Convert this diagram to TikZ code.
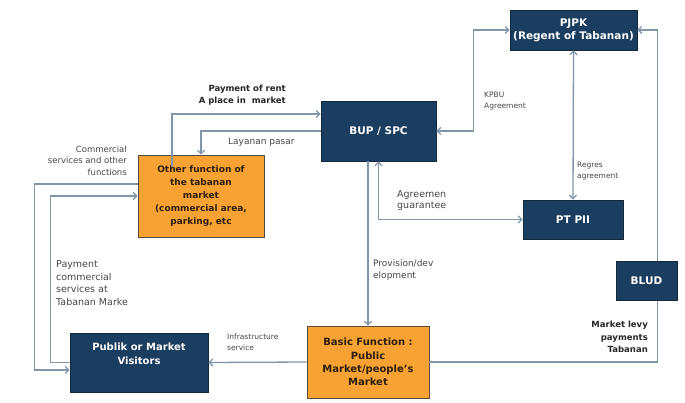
\documentclass[tikz,border=0pt]{standalone}
\usepackage{fontspec}
\setmainfont{DejaVu Sans}
\usetikzlibrary{arrows.meta}
\definecolor{navy}{RGB}{26,61,96}
\definecolor{navyedge}{RGB}{20,40,60}
\definecolor{orng}{RGB}{248,162,52}
\definecolor{linec}{RGB}{128,150,170}
\definecolor{txt}{RGB}{70,70,70}
\definecolor{boxtxt}{RGB}{45,30,15}
\begin{document}
\begin{tikzpicture}[x=1pt,y=-1pt,
  navybox/.style={draw=navyedge, fill=navy, text=white, font=\bfseries\fontsize{10.5}{13}\selectfont, align=center, inner sep=0pt, line width=0.8pt},
  orangebox/.style={draw=boxtxt!80, fill=orng, text=boxtxt, font=\bfseries\fontsize{9}{12.8}\selectfont, align=center, inner sep=0pt, line width=0.8pt},
  conn/.style={draw=linec, line width=1.3pt, -{Straight Barb[length=3.5pt,width=7pt]}},
  conn2/.style={draw=linec, line width=1.3pt, {Straight Barb[length=3.5pt,width=7pt]}-{Straight Barb[length=3.5pt,width=7pt]}},
  lbl/.style={text=txt, inner sep=0pt, font=\fontsize{9}{12}\selectfont},
  smalllbl/.style={text=txt, inner sep=0pt, font=\fontsize{7.5}{11}\selectfont, align=left, anchor=west},
  boldlbl/.style={text=black!85, inner sep=0pt, font=\bfseries\fontsize{8.5}{12.5}\selectfont, align=right, anchor=east},
]
\useasboundingbox (0,0) rectangle (685,403);

% boxes
\node[navybox, minimum width=127pt, minimum height=40pt] (pjpk) at (573.5,30) {PJPK\\(Regent of Tabanan)};
\node[navybox, minimum width=115pt, minimum height=60pt] (bup) at (378.5,131) {BUP / SPC};
\node[navybox, minimum width=100pt, minimum height=39pt] (ptpii) at (573,219.5) {PT PII};
\node[orangebox, minimum width=126pt, minimum height=82pt] (other) at (201,196) {Other function of\\the tabanan\\market\\(commercial area,\\parking, etc};
\node[orangebox, font=\bfseries\fontsize{10}{13.3}\selectfont, minimum width=122pt, minimum height=72pt] (basic) at (368,362) {Basic Function :\\Public\\Market/people’s\\Market};
\node[navybox, minimum width=138pt, minimum height=59pt] (publik) at (139,362.5) {};
\node[text=white, font=\bfseries\fontsize{10}{13.5}\selectfont, align=center, inner sep=0pt] (publiktxt) at (139,354) {Publik or Market\\Visitors};

% connectors
\coordinate (rentstart) at (172,167);
\draw[conn] (rentstart) |- ([yshift=17pt]bup.west);
\draw[conn] (bup.west) -| (other.north);
\draw[conn] ([yshift=12pt]other.west) -- ++(-103,0) |- ([yshift=-7.5pt]publik.west);
\draw[conn] (publik.west) -- ++(-19,0) |- (other.west);
\draw[conn] (basic.north |- bup.south) -- (basic.north);
\draw[conn2] (bup.south) |- (ptpii.west);
\draw[conn2] (bup.east) -- ++(37,0) |- (pjpk.west);
\draw[conn2] (pjpk.south) -- (ptpii.north);
\draw[conn] (basic.east) -- ++(228,0) |- (pjpk.east);
\draw[conn] (basic.west) -- (publik.east);

\node[navybox, minimum width=61pt, minimum height=39pt] (blud) at (646.5,280.5) {BLUD};

% labels
\node[boldlbl] (lrent) at (286,95) {Payment of rent\\A place in\ \ market};
\node[lbl, anchor=west] (llay) at (228,142) {Layanan pasar};
\node[lbl, align=right, anchor=east, font=\fontsize{8.5}{11.5}\selectfont] (lcom) at (127,160.5) {Commercial\\services and other\\functions};
\node[lbl, align=left, anchor=west, font=\fontsize{9.5}{12.7}\selectfont] (lpay) at (56,283) {Payment\\commercial\\services at\\Tabanan Marke};
\node[lbl, align=left, anchor=west] (lprov) at (373,270) {Provision/dev\\elopment};
\node[lbl, align=left, anchor=west, font=\fontsize{9.5}{11.5}\selectfont] (lagr) at (397,200.5) {Agreemen\\guarantee};
\node[smalllbl] (lkpbu) at (484,101.5) {KPBU\\Agreement};
\node[smalllbl] (lreg) at (577,171.5) {Regres\\agreement};
\node[boldlbl] (llevy) at (648,337) {Market levy\\payments\\Tabanan};
\node[smalllbl] (linf) at (227,342.5) {Infrastructure\\service};
\end{tikzpicture}
\end{document}
